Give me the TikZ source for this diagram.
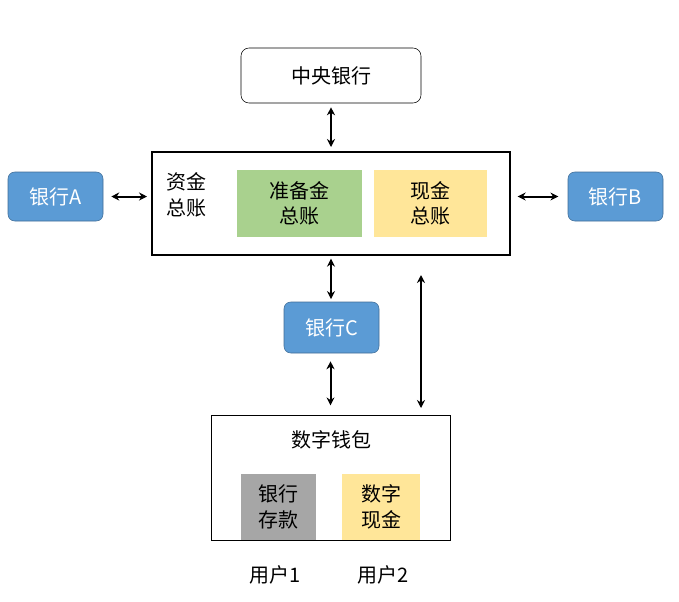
\documentclass[tikz,border=0pt]{standalone}
\usepackage{fontspec}
\setmainfont{Noto Sans CJK SC}
\usetikzlibrary{arrows.meta}
\definecolor{bankblu}{HTML}{5B9BD5}
\definecolor{resgreen}{HTML}{A9D18E}
\definecolor{cashyel}{HTML}{FFE699}
\definecolor{depgray}{HTML}{A6A6A6}
\tikzset{
  txt/.style={font=\fontsize{15}{19}\selectfont,align=center,inner sep=0pt},
  bank/.style={txt,draw=bankblu!70!black,fill=bankblu,text=white,rounded corners=5pt,minimum width=71.25pt,minimum height=36.75pt},
  inner/.style={txt,minimum height=50.25pt},
  dbl/.style={{Stealth[length=6pt,width=6pt]}-{Stealth[length=6pt,width=6pt]},line width=1.5pt}
}
\begin{document}
\begin{tikzpicture}[x=0.75pt,y=-0.75pt]
  \useasboundingbox (0,0) rectangle (679,601);
  % top
  \node[txt,draw,rounded corners=6pt,minimum width=135pt,minimum height=41.25pt] (central) at (331,75.5) {中央银行};
  % ledger
  \node[draw,line width=1.5pt,minimum width=268.5pt,minimum height=77.25pt] (ledger) at (331,203.5) {};
  \node[txt,align=left] (fund) at (186,195) {资金\\总账};
  \node[inner,fill=resgreen,minimum width=93.75pt] (reserve) at (299.5,203.5) {准备金\\总账};
  \node[inner,fill=cashyel,minimum width=84.75pt] (cash) at (430.5,203.5) {现金\\总账};
  % banks
  \node[bank] (bankA) at (55.5,196.5) {银行A};
  \node[bank] (bankB) at (615.5,196.5) {银行B};
  \node[bank,minimum height=38.25pt] (bankC) at (331.5,327.5) {银行C};
  % wallet
  \node[draw,minimum width=179.25pt,minimum height=93.75pt] (wallet) at (330.5,477.5) {};
  \node[txt] (wtitle) at (331,440) {数字钱包};
  \node[txt,fill=depgray,minimum width=56.25pt,minimum height=49.5pt] (deposit) at (278.5,507) {银行\\存款};
  \node[txt,fill=cashyel,minimum width=58.5pt,minimum height=49.5pt] (dcash) at (381,507) {数字\\现金};
  \node[txt] (user1) at (275,575) {用户1};
  \node[txt] (user2) at (383,575) {用户2};
  % arrows
  \coordinate (cashdown) at (421,275);
  \coordinate (walletup) at (421,408);
  \draw[dbl] ([xshift=6pt]bankA.east) -- ([xshift=-3pt]ledger.west |- bankA.east);
  \draw[dbl] ([xshift=5pt]ledger.east |- bankB.west) -- ([xshift=-7pt]bankB.west);
  \draw[dbl] ([yshift=-3pt]central.south) -- ([yshift=3pt]ledger.north);
  \draw[dbl] ([yshift=-2pt]ledger.south) -- ([yshift=2pt]bankC.north -| ledger.south);
  \draw[dbl] ([yshift=-6pt]bankC.south -| wallet.north) -- ([yshift=7pt]wallet.north);
  \draw[dbl] (cashdown) -- (walletup);
\end{tikzpicture}
\end{document}
